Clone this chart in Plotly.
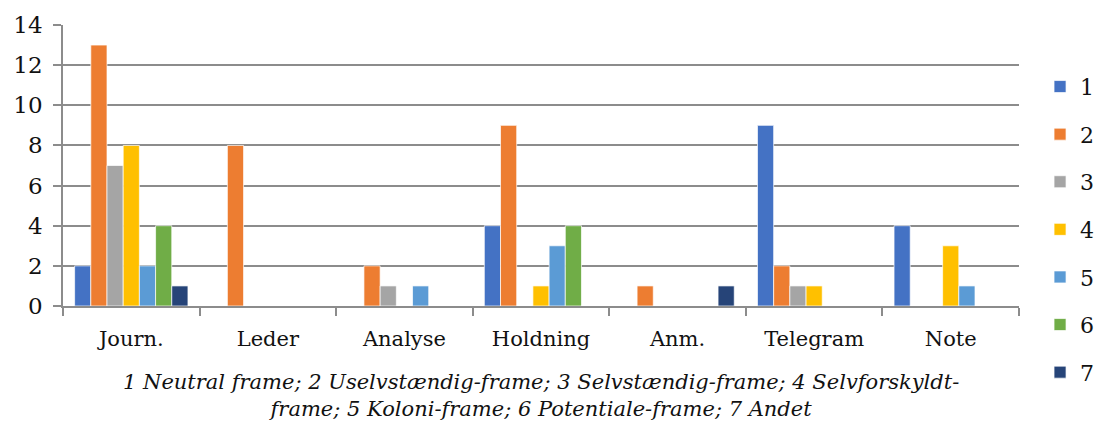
import plotly.graph_objects as go

categories = ["Journ.", "Leder", "Analyse", "Holdning", "Anm.", "Telegram", "Note"]
series_names = ["1", "2", "3", "4", "5", "6", "7"]
values = {
    "1": [2, 0, 0, 4, 0, 9, 4],
    "2": [13, 8, 2, 9, 1, 2, 0],
    "3": [7, 0, 1, 0, 0, 1, 0],
    "4": [8, 0, 0, 1, 0, 1, 3],
    "5": [2, 0, 1, 3, 0, 0, 1],
    "6": [4, 0, 0, 4, 0, 0, 0],
    "7": [1, 0, 0, 0, 1, 0, 0],
}
colors = ["#4472C4", "#ED7D31", "#A5A5A5", "#FFC000", "#5B9BD5", "#70AD47", "#264478"]
caption = ("1 Neutral frame; 2 Uselvstændig-frame; 3 Selvstændig-frame; 4 Selvforskyldt-<br>"
           "frame; 5 Koloni-frame; 6 Potentiale-frame; 7 Andet")

FONT = "DejaVu Serif"

fig = go.Figure()
for name, col in zip(series_names, colors):
    fig.add_trace(go.Bar(
        x=categories, y=values[name], name=name, legendgroup=name,
        marker=dict(color=col, line=dict(color="white", width=0.7)),
    ))

fig.update_layout(
    width=1095, height=421,
    margin=dict(l=63, r=76, t=25, b=115, autoexpand=False),
    plot_bgcolor="white", paper_bgcolor="white",
    barmode="group", bargap=0.17, bargroupgap=0,
    font=dict(family=FONT, size=21, color="#111111"),
    showlegend=True,
    legend=dict(x=1.022, xanchor="left", y=0.855, yanchor="top",
                font=dict(family=FONT, size=22), tracegroupgap=16,
                itemwidth=30, bgcolor="rgba(0,0,0,0)", maxheight=400),
    xaxis=dict(
        showgrid=False, showline=True, linecolor="#8c8c8c", linewidth=1.5,
        ticks="outside", tickson="boundaries", ticklen=8, tickcolor="#8c8c8c",
        tickwidth=1.5, tickfont=dict(family=FONT, size=21), ticklabelstandoff=13,
    ),
    yaxis=dict(
        range=[0, 14], dtick=2, showgrid=True, gridcolor="#8c8c8c", gridwidth=1.5,
        showline=True, linecolor="#8c8c8c", linewidth=1.5,
        ticks="outside", ticklen=8, tickcolor="#8c8c8c", tickwidth=1.5,
        tickfont=dict(family=FONT, size=23), zeroline=False, ticklabelstandoff=6,
    ),
    annotations=[dict(
        text=caption, x=0.5, xref="paper", y=-0.318, yref="paper",
        xanchor="center", yanchor="middle", showarrow=False,
        font=dict(family=FONT, size=21, style="italic"),
    )],
)

fig.write_html("out.html", config={"displayModeBar": False},
               post_script="document.body.style.margin='0';document.body.style.overflow='hidden';")
